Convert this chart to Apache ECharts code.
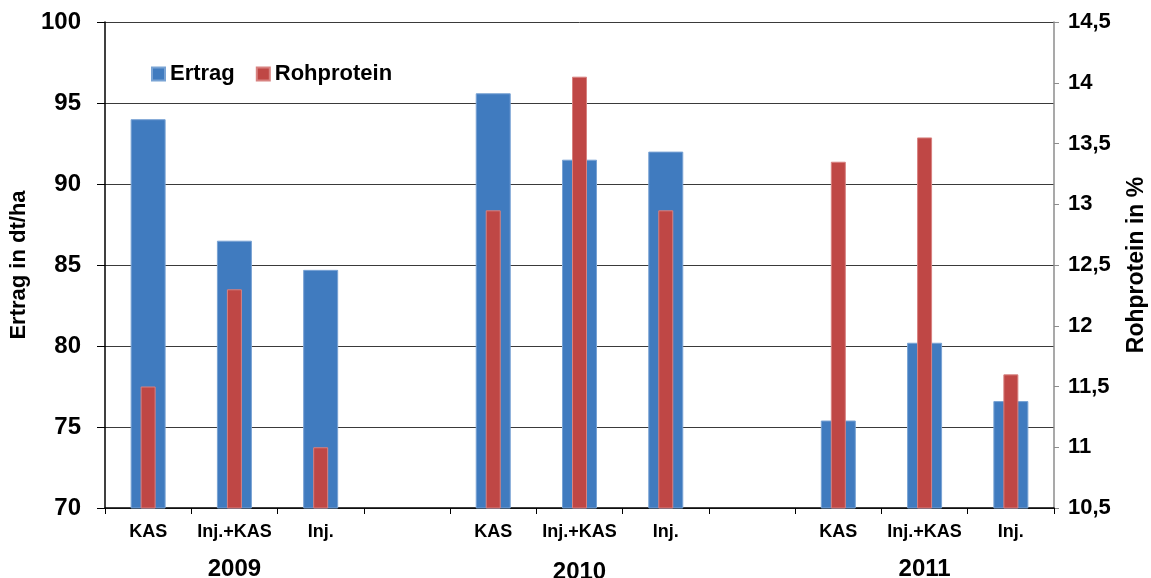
<!DOCTYPE html>
<html>
<head>
<meta charset="utf-8">
<script src="https://cdn.jsdelivr.net/npm/echarts@6/dist/echarts.min.js"></script>
<style>
html,body{margin:0;padding:0;background:#fff;}
#chart{width:1151px;height:578px;}
</style>
</head>
<body>
<div id="chart"></div>
<script>
// Categories (empty slots separate the years)
var categories = ['KAS','Inj.+KAS','Inj.','', 'KAS','Inj.+KAS','Inj.','', 'KAS','Inj.+KAS','Inj.'];
var yearLabels = ['', '2009', '', '', '', '2010', '', '', '', '2011', ''];
// Ertrag in dt/ha (left axis)
var ertrag = [94.0, 86.5, 84.7, null, 95.6, 91.5, 92.0, null, 75.4, 80.2, 76.6];
// Rohprotein in % (right axis)
var rohprotein = [11.5, 12.3, 11.0, null, 12.95, 14.05, 12.95, null, 13.35, 13.55, 11.6];

var FONT = '"Liberation Sans", Arial, sans-serif';
var chart = echarts.init(document.getElementById('chart'), null, {renderer:'canvas'});
chart.setOption({
  animation:false,
  textStyle:{fontFamily:FONT},
  grid:{left:105, right:97, top:22, bottom:70, containLabel:false, outerBoundsMode:'none'},
  legend:{
    left:146, top:58, itemWidth:13, itemHeight:13, itemGap:21, icon:'rect',
    textStyle:{fontSize:22, fontWeight:'bold', color:'#000', fontFamily:FONT},
    data:['Ertrag','Rohprotein']
  },
  xAxis:[
    {type:'category', data:categories, position:'bottom',
     axisLine:{lineStyle:{color:'#000', width:1.5}},
     axisTick:{show:true, interval:0, length:6, lineStyle:{color:'#000'}},
     axisLabel:{interval:0, margin:15, fontSize:18, fontWeight:'bold', color:'#000', fontFamily:FONT}},
    {type:'category', data:categories, show:false},
    {type:'category', data:yearLabels, position:'bottom',
     axisLine:{show:false}, axisTick:{show:false},
     axisLabel:{interval:0, margin:49, fontSize:24, fontWeight:'bold', color:'#000', fontFamily:FONT,
       formatter:function(v){ return v ? '{y' + v + '|' + v + '}' : ''; },
       rich:{
         y2009:{fontSize:24, fontWeight:'bold', fontFamily:FONT, color:'#000'},
         y2010:{fontSize:24, fontWeight:'bold', fontFamily:FONT, color:'#000', padding:[3,0,0,0]},
         y2011:{fontSize:24, fontWeight:'bold', fontFamily:FONT, color:'#000', padding:[0,0,8,0]}
       }}}
  ],
  yAxis:[
    {type:'value', min:70, max:100, interval:5, position:'left',
     name:'Ertrag in dt/ha', nameLocation:'middle', nameGap:74, nameRotate:90,
     nameTextStyle:{fontSize:22, fontWeight:'bold', color:'#000', fontFamily:FONT},
     axisLine:{show:true, lineStyle:{color:'#000', width:1.5}},
     axisTick:{show:true, length:8, lineStyle:{color:'#000'}},
     axisLabel:{margin:24, fontSize:24, fontWeight:'bold', color:'#000', fontFamily:FONT},
     splitLine:{show:true, lineStyle:{color:'#3a3a3a', width:1}}},
    {type:'value', min:10.5, max:14.5, interval:0.5, position:'right',
     name:'Rohprotein in %', nameLocation:'middle', nameGap:71, nameRotate:90,
     nameTextStyle:{fontSize:23, fontWeight:'bold', color:'#000', fontFamily:FONT},
     axisLine:{show:true, lineStyle:{color:'#8c8c8c', width:1.5}},
     axisTick:{show:true, length:5, lineStyle:{color:'#8c8c8c'}},
     axisLabel:{margin:14, fontSize:22, fontWeight:'bold', color:'#000', fontFamily:FONT,
       formatter:function(v){ return String(v).replace('.', ','); }},
     splitLine:{show:false}}
  ],
  series:[
    {name:'Ertrag', type:'bar', xAxisIndex:0, yAxisIndex:0, data:ertrag, barWidth:35,
     itemStyle:{color:'#407BBF', borderColor:'#79A3D4', borderWidth:1}},
    {name:'Rohprotein', type:'bar', xAxisIndex:1, yAxisIndex:1, data:rohprotein, barWidth:15,
     itemStyle:{color:'#BF4745', borderColor:'#D88280', borderWidth:1}}
  ]
});
</script>
</body>
</html>
